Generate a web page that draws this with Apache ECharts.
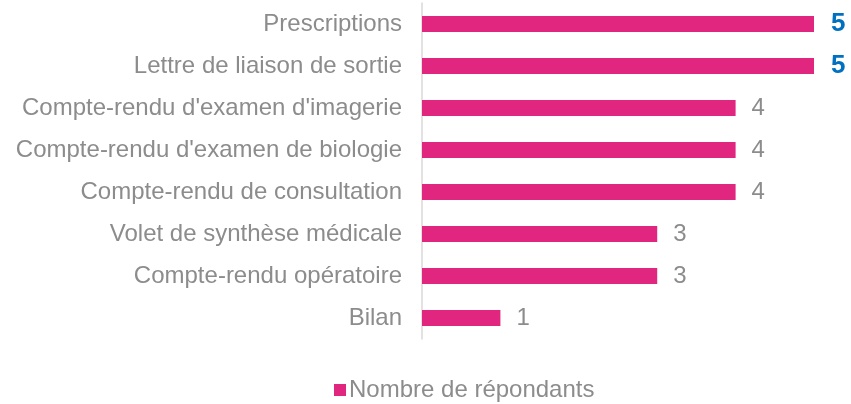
<!DOCTYPE html>
<html><head><meta charset="utf-8">
<script src="https://cdn.jsdelivr.net/npm/echarts@6/dist/echarts.min.js"></script>
<style>html,body{margin:0;padding:0;background:#fff}#c{width:851px;height:404px}</style>
</head><body><div id="c"></div>
<script>
const categories = ["Prescriptions","Lettre de liaison de sortie","Compte-rendu d'examen d'imagerie","Compte-rendu d'examen de biologie","Compte-rendu de consultation","Volet de synthèse médicale","Compte-rendu opératoire","Bilan"];
const values = [5,5,4,4,4,3,3,1];
const seriesName = "Nombre de répondants";
const highlightValue = 5;

const FONT = 'Liberation Sans, Arial, sans-serif';
const chart = echarts.init(document.getElementById('c'));
chart.setOption({
  animation:false,
  grid:{left:422,right:37,top:3,height:336,containLabel:false},
  xAxis:{type:'value',min:0,max:5,show:false},
  yAxis:{type:'category',inverse:true,data:categories,
    axisLine:{show:true,lineStyle:{color:'#d9d9d9',width:1.5}},
    axisTick:{show:false},
    axisLabel:{color:'#8c8c8c',fontSize:24,fontFamily:FONT,margin:20}},
  legend:{data:[seriesName],top:373,left:329,itemWidth:12,itemHeight:12,icon:'rect',itemGap:5,
    textStyle:{color:'#8c8c8c',fontSize:24,fontFamily:FONT,padding:[0,0,0,-2]}},
  series:[{name:seriesName,type:'bar',data:values.map(v=>({value:v,label: v===highlightValue?{color:'#0070c0',fontWeight:'bold',fontSize:26,distance:17}:{}})),
    barWidth:16,itemStyle:{color:'#e0267e'},
    label:{show:true,position:'right',distance:16,color:'#8c8c8c',fontSize:24,fontFamily:FONT}}]
});
</script></body></html>
